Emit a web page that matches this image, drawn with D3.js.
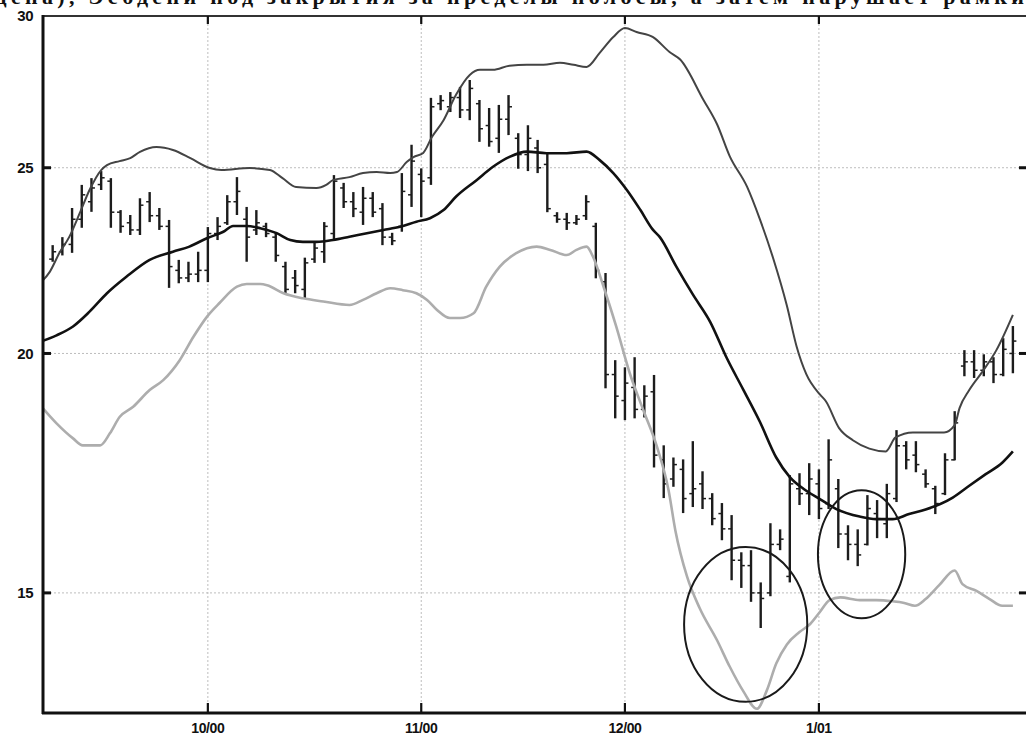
<!DOCTYPE html>
<html><head><meta charset="utf-8">
<script src="https://cdn.jsdelivr.net/npm/d3@7"></script>
<style>html,body{margin:0;padding:0;background:#fff;overflow:hidden}</style>
</head><body>
<svg id="c" width="1026" height="736"></svg>
<script>
// ---- data ----
const titleText = "цена), Эсбдени под закрытия за пределы полосы, а затем нарушает рамки";
const monthLabels = ["10/00","11/00","12/00","1/01"];
const monthIdx = [17,39,60,80];
const yTickValues = [15,20,25,30];
const yGridValues = [15,20,25];
const firstBar = 1;
const highs = [22.78,23.0,23.82,24.49,24.69,24.9,24.69,23.76,23.62,24.1,
24.28,23.82,23.48,22.38,22.33,22.6,23.28,23.56,24.19,24.72,
23.85,23.76,23.4,23.12,22.33,22.11,22.44,22.84,23.42,24.78,
24.55,24.28,24.43,24.28,23.96,23.12,24.84,25.7,24.98,27.19,
27.28,27.38,27.55,27.78,27.12,26.86,26.96,27.28,26.06,26.31,
25.85,25.45,23.7,23.68,23.62,24.19,23.4,22.03,19.84,19.67,
19.91,19.25,19.49,17.91,17.65,17.61,18.0,17.36,16.91,16.71,
16.47,15.75,15.79,15.19,16.31,16.19,17.28,17.32,17.53,17.4,
18.04,17.2,16.27,16.19,16.87,16.77,17.1,18.24,18.0,18.0,
17.4,17.06,17.74,18.66,20.08,20.08,19.98,19.91,20.37,20.67];
const lows = [22.33,22.5,22.57,23.26,23.71,24.34,23.26,23.12,23.06,23.06,
23.42,23.2,21.64,21.76,21.79,21.79,21.79,22.92,23.34,23.62,
22.33,23.06,23.0,22.33,21.5,21.5,21.38,22.3,22.3,22.92,
23.82,23.56,23.34,23.56,22.78,22.78,23.15,23.85,23.56,24.49,
26.79,26.73,26.54,26.47,25.79,25.64,25.45,26.0,24.97,24.9,
24.84,23.7,23.4,23.2,23.34,23.48,21.89,19.18,18.5,18.46,
18.5,18.52,17.44,16.81,17.04,16.51,16.63,16.59,16.27,15.98,
15.23,15.09,14.84,14.38,14.94,15.79,15.19,16.67,16.47,16.39,
16.59,15.83,15.6,15.49,15.88,16.02,16.02,16.73,17.4,17.34,
17.02,16.49,16.87,17.59,19.46,19.42,19.46,19.3,19.46,19.53];
const opens = [22.4,22.6,22.8,23.5,24.0,24.5,24.6,23.7,23.4,23.2,
24.0,23.6,23.3,22.1,21.9,22.0,22.1,23.1,23.4,24.0,
23.5,23.2,23.3,23.0,22.2,21.9,21.6,22.4,22.6,23.1,
24.4,24.0,23.7,24.1,23.8,23.0,23.3,24.2,24.8,24.7,
27.0,26.9,27.2,26.8,27.0,26.3,25.9,26.5,25.9,25.4,
25.6,25.1,23.6,23.5,23.4,23.6,23.3,21.8,19.5,18.9,
19.2,18.7,19.1,17.6,17.2,17.4,16.9,17.1,16.8,16.5,
16.2,15.6,15.5,15.0,15.0,15.9,15.3,17.0,16.9,17.1,
16.7,17.0,16.1,15.9,15.9,16.5,16.3,16.8,17.9,17.7,
17.3,17.0,16.9,17.6,19.7,19.8,19.6,19.8,19.5,20.0];
const closes = [22.6,22.8,23.5,24.2,24.4,24.7,23.7,23.3,23.2,23.9,
23.6,23.3,22.2,21.9,22.0,22.1,23.1,23.3,24.0,24.3,
23.0,23.4,23.1,22.5,21.6,21.7,22.3,22.7,23.3,24.6,
24.0,23.8,24.1,23.7,23.0,22.9,24.3,25.2,24.6,26.9,
27.1,27.2,26.8,27.5,26.2,25.8,26.5,26.9,25.4,25.9,
25.0,23.8,23.5,23.4,23.5,24.0,22.1,19.5,19.0,19.3,
18.7,19.0,17.7,17.1,17.5,16.8,17.0,16.8,16.4,16.2,
15.6,15.5,15.0,14.9,15.9,16.0,17.1,16.9,17.2,16.6,
17.6,16.1,15.9,15.7,16.6,16.4,16.9,17.9,17.6,17.5,
17.1,16.7,17.6,18.4,19.8,19.6,19.8,19.5,20.1,20.3];

const upperIdx = [-0.3,0.7,1.7,2.7,3.8,4.8,6.0,6.6,7.9,9.0,10.0,11.7,13.4,15.2,17.2,18.4,21.3,23.4,24.7,26.1,
28.2,29.2,29.9,31.6,33.0,34.4,35.8,36.5,37.5,38.2,39.2,40.1,41.3,42.6,44.0,45.05,46.4,48.1,49.9,
51.6,53.3,54.7,56.05,57.4,58.8,60.0,61.2,62.9,64.6,65.7,68.1,69.5,70.8,72.6,73.9,75.3,76.7,77.7,78.7,
80.1,80.7,82.1,83.5,85.2,86.9,87.9,89.7,91.0,92.9,94.0,94.5,95.5,96.9,98.3,100.0];
const upperVal = [21.76,22.06,22.57,23.0,23.68,24.34,24.93,25.08,25.2,25.29,25.48,25.63,25.54,25.29,24.99,24.93,24.99,24.93,24.69,24.43,
24.4,24.49,24.63,24.72,24.84,24.87,24.84,24.87,25.17,25.32,25.45,25.94,26.47,27.3,27.95,28.12,28.12,28.26,28.29,
28.29,28.36,28.29,28.22,28.70,29.25,29.57,29.43,29.25,28.73,28.47,27.12,26.34,25.35,24.43,23.51,22.41,21.18,20.17,19.51,
19.04,18.89,18.28,18.02,17.84,17.78,18.08,18.19,18.19,18.19,18.35,18.73,19.14,19.58,20.08,20.95];

const midIdx = [-0.3,1.4,3.1,4.8,6.6,8.6,11.0,13.4,15.1,16.9,18.6,19.6,21.0,22.4,24.1,25.5,26.8,28.2,29.9,31.6,
33.4,35.1,36.8,38.5,39.9,41.3,42.6,44.7,46.4,48.1,49.9,51.9,54.0,56.05,57.4,58.8,60.2,61.6,62.9,63.6,
65.3,67.0,68.8,70.5,72.2,73.9,75.6,77.0,78.4,80.1,81.8,84.2,85.9,87.6,89.3,91.0,93.8,95.5,97.2,98.9,100.0];
const midVal = [20.28,20.44,20.66,21.03,21.5,21.93,22.38,22.6,22.74,22.97,23.15,23.31,23.31,23.25,23.11,22.92,22.87,22.87,22.92,23.01,
23.11,23.2,23.29,23.43,23.53,23.76,24.15,24.63,25.03,25.33,25.49,25.44,25.44,25.49,25.23,24.84,24.34,23.76,23.2,23.0,
22.2,21.47,20.77,19.89,19.15,18.43,17.65,17.24,17.0,16.79,16.59,16.44,16.39,16.39,16.49,16.58,16.82,17.06,17.3,17.54,17.78];

const lowIdx = [-0.3,1.4,3.1,4.1,5.9,6.9,7.9,9.3,11.0,12.4,14.1,15.5,16.9,18.2,20.0,21.0,22.4,23.1,24.8,26.8,
28.9,31.6,33.0,34.4,35.8,37.1,38.5,39.6,40.6,41.96,43.0,44.4,45.7,47.1,48.8,50.9,52.3,54.0,55.0,56.05,
56.7,57.8,59.1,60.5,61.9,63.3,64.5,65.2,66.4,67.7,69.5,70.8,72.2,73.6,74.6,75.6,76.7,78.0,79.1,80.1,
81.1,82.2,84.2,85.9,87.6,88.8,89.9,91.0,92.4,94.0,94.8,96.2,97.6,98.9,100.0];
const lowVal = [18.8,18.39,18.06,17.91,17.91,18.17,18.53,18.76,19.14,19.37,19.84,20.4,20.9,21.25,21.67,21.74,21.74,21.71,21.5,21.37,
21.29,21.2,21.33,21.5,21.63,21.58,21.5,21.33,21.08,20.87,20.87,20.99,21.67,22.2,22.56,22.74,22.65,22.51,22.65,22.74,
22.47,21.67,20.66,19.53,18.68,17.88,16.97,16.17,15.3,14.73,14.17,13.73,13.33,13.05,13.33,13.78,14.1,14.31,14.45,14.66,
14.87,14.92,14.87,14.87,14.85,14.82,14.77,14.89,15.14,15.41,15.16,15.04,14.89,14.77,14.77];

// annotation ellipses: [left idx, right idx], [top price, bottom price]
const ellipseIdx = [[66.1,78.8],[79.9,88.9]];
const ellipsePrice = [[15.85,13.16],[16.97,14.55]];

// ---- layout ----
const L = 42, R = 1026, T = 16, B = 712;
const x = d3.scaleLinear().domain([-0.1, 101.3]).range([L, 1025.5]);
const y = d3.scaleLog().domain([13, 30]).range([B, T]);

const svg = d3.select("#c");

// title (cut off at top edge, as in the reference scan)
svg.append("text").attr("x", -6).attr("y", 4)
  .attr("font-family", "Liberation Serif, serif").attr("font-weight", "bold")
  .attr("font-size", 22).attr("fill", "#111")
  .attr("textLength", 1030).attr("lengthAdjust", "spacing").text(titleText);

svg.append("defs").append("clipPath").attr("id", "pa")
  .append("rect").attr("x", L).attr("y", T).attr("width", R - L).attr("height", B - T);

// gridlines
const grid = svg.append("g").attr("stroke", "#bdbdbd").attr("stroke-width", 1).attr("stroke-dasharray", "2,2");
grid.selectAll("line.h").data(yGridValues).join("line")
  .attr("x1", L).attr("x2", R).attr("y1", d => y(d)).attr("y2", d => y(d));
grid.selectAll("line.v").data(monthIdx).join("line")
  .attr("x1", d => x(d)).attr("x2", d => x(d)).attr("y1", T).attr("y2", B);

const plot = svg.append("g").attr("clip-path", "url(#pa)");

// OHLC bars
const bars = highs.map((h, i) => ({ i: i + firstBar, h, l: lows[i], o: opens[i], c: closes[i] }));
const bg = plot.append("g").attr("stroke", "#1c1c1c");
bg.selectAll("line.hl").data(bars).join("line")
  .attr("x1", d => x(d.i)).attr("x2", d => x(d.i))
  .attr("y1", d => y(d.h)).attr("y2", d => y(d.l)).attr("stroke-width", 2.4);
bg.selectAll("line.op").data(bars).join("line")
  .attr("x1", d => x(d.i) - 3.5).attr("x2", d => x(d.i))
  .attr("y1", d => y(d.o)).attr("y2", d => y(d.o)).attr("stroke-width", 1.5);
bg.selectAll("line.cl").data(bars).join("line")
  .attr("x1", d => x(d.i)).attr("x2", d => x(d.i) + 3.5)
  .attr("y1", d => y(d.c)).attr("y2", d => y(d.c)).attr("stroke-width", 1.5);

// bands
const line = d3.line().x(d => x(d[0])).y(d => y(d[1])).curve(d3.curveMonotoneX);
const zip = (a, b) => a.map((v, i) => [v, b[i]]);
plot.append("path").attr("d", line(zip(lowIdx, lowVal)))
  .attr("fill", "none").attr("stroke", "#adadad").attr("stroke-width", 2.6);
plot.append("path").attr("d", line(zip(upperIdx, upperVal)))
  .attr("fill", "none").attr("stroke", "#444").attr("stroke-width", 2);
plot.append("path").attr("d", line(zip(midIdx, midVal)))
  .attr("fill", "none").attr("stroke", "#111").attr("stroke-width", 2.6);

// ellipses
plot.selectAll("ellipse").data(ellipseIdx.map((xi, k) => ({ xi, p: ellipsePrice[k] }))).join("ellipse")
  .attr("cx", d => (x(d.xi[0]) + x(d.xi[1])) / 2)
  .attr("cy", d => (y(d.p[0]) + y(d.p[1])) / 2)
  .attr("rx", d => (x(d.xi[1]) - x(d.xi[0])) / 2)
  .attr("ry", d => (y(d.p[1]) - y(d.p[0])) / 2)
  .attr("fill", "none").attr("stroke", "#1a1a1a").attr("stroke-width", 2);

// frame
svg.append("line").attr("x1", L).attr("x2", R).attr("y1", T).attr("y2", T)
  .attr("stroke", "#333").attr("stroke-width", 2);
svg.append("line").attr("x1", L).attr("x2", R).attr("y1", B + 1).attr("y2", B + 1)
  .attr("stroke", "#111").attr("stroke-width", 3);
svg.append("line").attr("x1", L + 1).attr("x2", L + 1).attr("y1", T - 1).attr("y2", B + 2)
  .attr("stroke", "#111").attr("stroke-width", 3);

// ticks
const tk = svg.append("g").attr("stroke", "#111").attr("stroke-width", 3);
tk.selectAll("line.l").data(yGridValues).join("line")
  .attr("x1", L).attr("x2", L + 9).attr("y1", d => y(d)).attr("y2", d => y(d));
tk.selectAll("line.r").data(yGridValues).join("line")
  .attr("x1", R - 7).attr("x2", R).attr("y1", d => y(d)).attr("y2", d => y(d));
tk.selectAll("line.t").data(monthIdx).join("line")
  .attr("x1", d => x(d)).attr("x2", d => x(d)).attr("y1", T).attr("y2", T + 8).attr("stroke-width", 2.2);
tk.selectAll("line.b").data(monthIdx).join("line")
  .attr("x1", d => x(d)).attr("x2", d => x(d)).attr("y1", B).attr("y2", B - 9).attr("stroke-width", 2.2);

// y labels
svg.append("g").selectAll("text").data(yTickValues).join("text")
  .attr("x", 33).attr("y", d => y(d)).attr("dy", "0.36em").attr("text-anchor", "end")
  .attr("font-family", "Liberation Sans, Arial, sans-serif").attr("font-weight", "bold")
  .attr("font-size", 15).attr("letter-spacing", -0.5).attr("fill", "#111").text(d => d);

// x labels
svg.append("g").selectAll("text").data(monthIdx).join("text")
  .attr("x", d => x(d)).attr("y", 733).attr("text-anchor", "middle")
  .attr("font-family", "Liberation Sans, Arial, sans-serif").attr("font-weight", "bold")
  .attr("font-size", 14).attr("letter-spacing", -0.4).attr("fill", "#111")
  .text((d, i) => monthLabels[i]);
</script>
</body></html>
